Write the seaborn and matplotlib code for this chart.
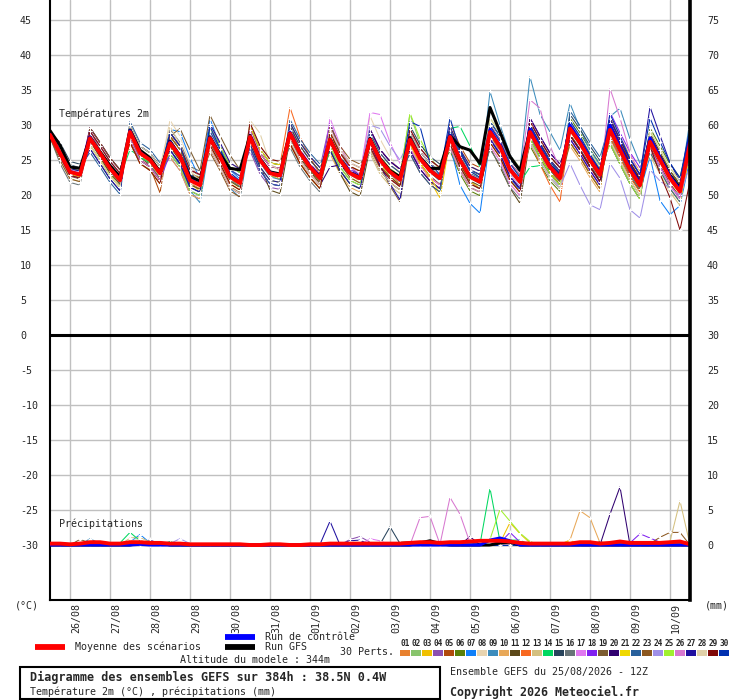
import numpy as np
import pandas as pd
import matplotlib
matplotlib.use("Agg")
import matplotlib.pyplot as plt
import matplotlib.transforms as mtransforms
from matplotlib.lines import Line2D
from matplotlib.patches import Rectangle
import seaborn as sns

# 6-hourly steps from 25/08 12Z to 10/09 12Z (384h)
hours = np.arange(65) * 6
day_hours = [12 + 24 * k for k in range(16)]
day_labels = ["26/08", "27/08", "28/08", "29/08", "30/08", "31/08", "01/09", "02/09",
              "03/09", "04/09", "05/09", "06/09", "07/09", "08/09", "09/09", "10/09"]

member_names = ["%02d" % i for i in range(1, 31)]
member_colors = ["#e8812f", "#88c46c", "#f0c000", "#8c50b0", "#b04a0c", "#5a8008",
                 "#1080f8", "#e8d4b0", "#3c8cbc", "#e8a858", "#5c4818", "#f86820",
                 "#d4c080", "#00d860", "#28445c", "#687478", "#e078f0", "#8020f0",
                 "#7c5c30", "#300070", "#f0d800", "#28609c", "#8c5820", "#a090e8",
                 "#a0f030", "#d878d0", "#2010a0", "#e0d0a8", "#800808", "#0030b0"]

# 2m temperature of the 30 perturbed members (degC)
t2m_members = [
    [28.8,25.7,23.0,22.6, 28.0,25.8,23.4,21.8, 28.6,25.6,24.5,22.7, 27.1,25.2,21.7,20.9, 28.6,25.9,22.2,21.2, 29.0,25.4,23.2,22.3, 29.6,26.6,23.8,22.0, 28.4,25.3,22.9,22.0, 27.2,24.6,22.9,21.6, 28.6,25.6,23.9,22.7, 27.6,24.4,21.8,20.8, 28.2,25.9,22.7,20.7, 28.1,25.6,23.4,21.8, 30.2,27.6,24.5,21.9, 28.4,25.5,22.7,20.6, 26.8,24.1,21.5,19.6, 26.2],
    [28.5,26.2,23.6,23.1, 28.3,26.4,24.1,22.5, 28.4,25.9,25.3,23.4, 27.8,25.8,22.5,21.8, 27.5,25.1,22.3,21.4, 28.0,24.7,22.9,22.6, 28.2,25.7,23.8,22.7, 28.6,25.6,23.5,22.9, 28.5,25.4,23.7,22.7, 31.6,27.4,25.2,23.8, 29.0,25.7,23.5,22.6, 29.9,27.6,24.6,22.7, 29.4,27.1,24.6,23.1, 30.0,28.0,25.8,23.6, 29.0,26.1,23.3,21.1, 27.4,25.4,23.1,21.2, 27.9],
    [28.4,25.8,22.9,22.5, 27.8,25.6,23.2,21.6, 28.8,25.7,24.6,22.8, 27.0,25.0,21.6,20.6, 27.9,25.2,22.0,21.0, 28.0,24.8,22.8,22.2, 29.0,26.0,23.5,21.8, 27.5,24.6,22.5,21.7, 27.6,24.5,22.6,21.4, 27.5,24.8,22.0,19.6, 27.8,24.3,21.9,21.0, 28.6,26.2,22.8,20.8, 28.2,25.6,23.1,21.6, 28.8,26.5,24.0,22.0, 28.7,25.8,22.9,20.8, 26.6,24.0,21.6,19.8, 25.8],
    [28.9,26.2,23.4,22.9, 29.3,26.4,24.0,22.3, 29.4,26.3,25.3,23.3, 25.4,23.5,20.1,19.4, 29.6,27.0,24.1,23.2, 26.3,23.0,21.1,20.8, 30.3,27.5,25.5,23.9, 30.4,26.6,24.0,22.8, 26.9,24.0,22.3,21.2, 28.9,26.2,24.5,23.4, 26.8,23.5,21.1,20.4, 30.5,28.4,25.1,23.4, 27.5,24.9,22.5,20.9, 30.5,28.4,26.0,23.9, 27.3,24.4,21.6,19.4, 28.6,26.0,23.4,21.5, 26.4],
    [28.7,25.9,23.1,22.6, 27.1,25.0,22.8,21.1, 28.7,25.7,24.0,20.3, 28.9,27.0,23.6,22.9, 26.6,24.0,21.1,20.2, 29.3,26.0,24.1,23.8, 29.8,27.0,25.0,23.4, 26.4,23.5,21.6,20.9, 28.9,26.0,24.3,23.2, 25.9,23.2,21.5,20.4, 30.3,27.0,24.6,23.9, 28.0,25.9,22.6,20.9, 30.5,27.9,25.5,23.9, 27.5,25.4,23.0,20.9, 30.3,27.4,24.6,22.4, 28.6,26.0,23.4,21.5, 26.4],
    [28.6,26.1,23.4,23.0, 28.6,26.5,24.2,22.7, 27.5,24.5,23.6,21.6, 28.9,27.0,23.6,22.8, 26.6,24.0,21.2,20.3, 29.3,26.0,24.1,23.7, 27.3,24.6,22.5,20.9, 29.4,26.5,24.6,23.9, 26.9,24.0,22.3,21.2, 29.4,26.7,25.0,23.9, 26.3,23.0,20.6,19.9, 30.0,27.9,24.6,22.9, 27.0,24.4,22.0,20.5, 31.0,28.9,26.5,24.4, 27.8,24.9,22.1,19.9, 29.6,27.0,24.4,22.5, 28.4],
    [28.9,26.3,23.5,23.0, 28.4,26.2,24.0,22.4, 29.3,26.4,25.4,23.4, 29.4,29.0,25.3,22.3, 30.9,27.0,23.6,22.3, 28.6,25.3,23.4,23.0, 28.8,26.0,24.1,22.6, 27.5,24.7,22.9,22.2, 27.4,24.7,23.0,21.9, 27.6,25.0,23.3,22.0, 27.2,21.4,18.8,17.4, 28.0,25.6,22.4,20.6, 28.4,25.9,23.6,21.9, 28.6,26.6,24.2,22.0, 28.4,25.6,22.8,20.6, 25.5,19.2,17.2,18.5, 25.2],
    [28.8,26.2,23.5,23.1, 28.4,26.3,24.1,22.4, 29.1,26.1,25.2,23.4, 30.7,28.4,24.4,22.4, 28.4,25.9,23.0,22.1, 28.7,25.4,23.4,23.1, 29.1,26.3,24.3,22.8, 28.2,25.4,23.5,22.8, 31.3,28.0,25.4,23.2, 28.3,25.6,23.8,22.8, 28.5,25.3,22.9,22.3, 29.5,27.3,24.0,22.3, 29.1,26.5,24.3,22.8, 29.7,27.7,25.4,23.4, 29.8,26.9,24.0,21.9, 28.2,25.6,23.0,21.1, 28.2],
    [28.5,25.8,23.0,22.6, 27.8,25.6,23.4,21.7, 28.5,25.5,24.3,22.3, 26.5,24.2,20.6,18.9, 27.5,24.6,21.0,19.6, 27.8,24.6,22.6,22.2, 28.6,25.8,23.6,22.0, 28.2,25.3,23.3,22.6, 28.0,25.1,23.5,22.4, 28.3,25.6,23.9,22.8, 28.6,25.5,22.9,22.1, 34.8,30.0,25.8,23.6, 36.9,31.5,29.0,26.4, 33.1,29.5,26.4,24.3, 31.2,32.4,28.0,24.5, 27.0,25.0,22.8,21.2, 30.7],
    [28.9,27.0,24.3,23.9, 27.1,25.0,22.8,21.1, 29.5,26.5,25.5,23.6, 25.4,23.5,20.1,19.4, 30.1,27.5,24.6,23.7, 27.3,24.0,22.1,21.8, 29.8,27.0,25.0,23.4, 25.9,23.0,21.1,20.4, 29.4,26.5,24.8,23.7, 26.9,24.2,22.5,21.4, 29.8,26.5,24.1,23.4, 27.0,24.9,21.6,19.9, 30.0,27.4,25.0,23.4, 27.0,24.9,22.5,20.4, 31.3,28.4,25.6,23.4, 26.1,23.5,20.9,19.0, 26.4],
    [28.4,25.6,22.7,22.3, 27.7,25.4,23.1,21.5, 28.4,25.4,24.4,22.5, 26.9,24.9,21.5,20.8, 27.6,24.9,22.0,21.1, 27.7,24.3,20.7,20.2, 28.0,25.3,23.4,21.6, 26.6,23.1,20.5,19.8, 26.8,24.1,22.6,21.4, 27.1,24.5,22.7,21.5, 27.6,24.4,22.0,21.3, 26.8,24.0,21.0,18.8, 28.0,25.2,23.0,21.5, 28.6,26.5,24.2,22.0, 28.2,25.4,22.6,20.5, 26.8,24.2,21.6,19.7, 26.5],
    [28.7,26.1,23.4,23.0, 29.6,27.5,25.3,23.6, 28.0,25.0,24.0,22.1, 28.4,26.5,23.1,22.4, 26.6,24.0,21.1,20.2, 29.8,26.5,24.6,24.3, 32.5,28.3,25.4,22.9, 26.4,23.5,21.6,20.9, 29.4,26.5,24.8,23.7, 26.9,24.2,22.5,21.4, 29.3,26.0,23.6,22.9, 28.6,26.2,22.6,20.9, 27.6,24.4,21.4,19.0, 30.0,27.9,25.5,23.4, 28.3,25.4,22.6,20.4, 28.6,26.0,23.4,21.5, 26.9],
    [28.2,25.0,22.3,21.9, 29.6,27.5,25.3,23.6, 28.5,25.5,24.5,22.6, 28.4,26.5,23.1,22.4, 27.1,24.5,21.6,20.7, 30.3,27.0,25.1,24.8, 27.3,24.5,22.5,20.9, 28.9,26.0,24.1,23.4, 25.9,23.0,21.3,20.2, 28.4,25.7,24.0,22.9, 29.8,26.5,24.1,23.4, 27.5,25.4,22.1,20.4, 31.0,28.4,26.0,24.4, 28.5,26.4,24.0,21.9, 30.3,27.4,24.6,22.4, 25.6,23.0,20.4,18.5, 28.9],
    [28.6,26.0,23.4,23.0, 28.3,26.3,24.4,22.6, 26.5,25.4,24.6,22.9, 25.9,24.0,20.6,19.9, 28.0,25.4,22.5,21.6, 29.8,26.5,24.6,24.3, 28.8,25.9,23.9,22.3, 26.4,23.5,21.6,20.9, 27.6,24.9,23.2,22.1, 28.0,25.5,23.8,22.6, 29.5,29.8,27.0,24.0, 28.6,26.5,23.5,21.8, 24.0,24.2,23.6,22.0, 29.6,27.4,25.0,22.9, 29.1,26.3,23.6,21.4, 28.6,26.0,23.4,21.5, 27.8],
    [29.0,27.5,24.8,24.4, 26.6,24.5,22.3,20.6, 30.0,27.0,26.0,24.1, 26.4,24.5,21.1,20.4, 29.6,27.0,24.1,23.2, 26.8,23.5,21.6,21.3, 29.8,27.0,25.0,23.4, 28.4,25.5,23.6,22.9, 26.4,23.5,21.8,20.7, 29.9,27.2,25.5,24.4, 27.3,24.0,21.6,20.9, 30.5,28.4,25.1,23.4, 28.0,25.4,23.0,21.4, 31.5,29.4,27.0,24.9, 27.3,24.4,21.6,19.4, 28.6,26.0,23.4,21.5, 26.9],
    [28.3,24.5,21.8,21.4, 29.1,27.0,24.8,23.1, 28.0,25.0,24.0,22.1, 29.4,27.5,24.1,23.4, 27.6,25.0,22.1,21.2, 29.8,26.5,24.6,24.3, 26.8,24.0,22.0,20.4, 28.9,26.0,24.1,23.4, 29.4,26.5,24.8,23.7, 26.4,23.7,22.0,20.9, 28.8,25.5,23.1,22.4, 26.5,24.4,21.1,19.4, 30.5,27.9,25.5,23.9, 28.5,26.4,24.0,21.9, 30.8,27.9,25.1,22.9, 26.6,24.0,21.4,19.5, 29.4],
    [28.9,26.3,23.6,23.2, 28.6,26.5,24.3,22.6, 27.5,24.5,23.5,21.6, 28.9,27.0,23.6,22.9, 27.1,24.5,21.6,20.7, 29.3,26.0,24.1,23.8, 27.8,25.0,23.0,21.4, 31.0,27.2,24.3,22.9, 31.8,31.5,27.5,24.5, 26.9,24.2,22.5,21.4, 29.8,26.5,24.1,23.4, 27.0,24.9,21.6,19.9, 30.0,27.4,25.0,23.4, 28.0,25.9,23.5,21.4, 29.9,27.0,24.0,21.7, 28.1,25.4,22.8,20.9, 28.0],
    [29.1,26.5,23.8,23.4, 29.6,27.5,25.3,23.6, 28.0,25.0,24.0,22.1, 25.9,24.0,20.6,19.9, 29.1,26.5,23.6,22.7, 26.8,23.5,21.6,21.3, 29.3,26.5,24.5,22.9, 30.2,26.2,23.7,22.7, 29.4,26.5,24.8,23.7, 26.4,23.7,22.0,20.9, 29.3,26.0,23.6,22.9, 28.0,25.9,22.6,20.9, 31.0,28.4,26.0,24.4, 28.0,25.9,23.5,21.4, 31.8,28.9,26.1,23.9, 26.6,24.0,21.4,19.5, 27.9],
    [28.6,26.0,22.8,22.4, 28.1,26.4,24.3,22.5, 29.1,26.3,25.1,23.0, 28.4,29.5,26.4,23.5, 31.4,28.5,25.7,23.6, 28.6,25.0,22.8,22.6, 28.4,25.6,23.6,21.9, 27.4,24.5,22.5,21.7, 27.2,24.1,21.3,19.0, 27.6,25.0,23.2,22.1, 28.0,24.8,22.4,21.6, 28.8,26.6,23.4,21.6, 28.7,26.1,23.6,21.9, 29.2,27.1,24.6,22.4, 28.9,26.0,23.1,20.9, 27.2,24.7,22.1,20.2, 27.2],
    [28.5,25.5,22.8,22.4, 29.6,27.5,25.3,23.6, 28.0,25.0,24.0,22.1, 28.4,26.5,23.1,22.4, 26.6,24.0,21.1,20.2, 29.3,26.0,24.1,23.8, 27.8,25.0,23.0,21.4, 24.0,24.3,23.0,22.2, 29.4,26.5,24.8,23.7, 26.4,23.7,22.0,20.9, 29.3,26.0,23.6,22.9, 28.0,25.9,22.6,20.9, 31.0,28.4,26.0,24.4, 28.5,26.4,24.0,21.9, 31.0,27.9,24.7,22.2, 29.0,26.0,23.0,21.0, 28.0],
    [28.4,25.7,23.0,22.6, 28.6,26.5,24.3,22.6, 27.5,24.5,23.5,21.6, 28.4,26.5,23.1,22.4, 27.1,24.5,21.6,20.7, 29.8,26.5,24.6,24.3, 27.3,24.5,22.5,20.9, 28.9,26.0,24.1,23.4, 26.9,24.0,22.3,21.2, 27.2,24.5,22.6,20.2, 29.8,26.5,24.1,23.4, 27.5,25.4,22.1,20.4, 30.0,27.4,25.0,23.4, 27.5,25.4,23.0,20.9, 30.3,27.4,24.6,22.4, 26.1,23.5,20.9,19.0, 25.9],
    [29.2,27.0,24.3,23.9, 26.1,24.0,21.8,20.1, 30.5,27.5,26.5,24.6, 26.4,24.5,21.1,20.4, 29.1,26.5,23.6,22.7, 26.8,23.5,21.6,21.3, 30.8,28.0,26.0,24.4, 26.9,24.0,22.1,21.4, 28.9,26.0,24.3,23.2, 25.9,23.2,21.5,20.4, 29.3,26.0,23.6,22.9, 30.5,28.4,25.1,23.4, 27.5,24.9,22.5,20.9, 32.0,29.9,27.5,25.4, 30.3,27.4,24.6,22.4, 26.1,23.5,20.9,19.0, 28.4],
    [28.2,25.0,22.3,21.9, 29.6,27.5,25.3,23.6, 28.0,25.0,24.0,22.1, 28.4,26.5,23.1,22.4, 26.1,23.5,20.6,19.7, 29.3,26.0,24.1,23.8, 27.8,25.0,23.0,21.4, 29.9,27.0,25.1,24.4, 26.4,23.5,21.8,20.7, 28.9,26.2,24.5,23.4, 26.8,23.5,21.1,20.4, 30.0,27.9,24.6,22.9, 28.0,25.4,23.0,21.4, 27.5,25.4,23.0,20.9, 30.8,27.9,25.1,22.9, 28.6,26.0,23.4,21.5, 25.4],
    [28.8,26.1,23.4,23.0, 28.2,26.1,23.9,22.2, 29.0,26.0,25.0,23.1, 27.6,25.6,22.2,21.5, 28.2,25.5,22.7,21.8, 28.4,25.1,23.2,22.9, 28.9,26.1,24.1,22.5, 28.0,25.1,23.2,22.5, 30.0,29.5,27.0,25.0, 28.0,25.3,23.6,22.5, 28.4,25.1,22.7,22.0, 28.2,26.0,23.0,21.2, 27.8,25.0,22.6,21.2, 24.5,21.4,18.6,17.9, 24.5,22.4,17.9,16.7, 23.6,22.0,21.0,20.0, 24.2],
    [29.1,26.5,23.8,23.4, 27.1,25.0,22.8,21.1, 30.0,27.0,26.0,24.1, 25.9,24.0,20.6,19.9, 29.6,27.0,24.1,23.2, 27.3,24.0,22.1,21.8, 30.3,27.5,25.5,23.9, 26.9,24.0,22.1,21.4, 28.4,25.5,23.8,22.7, 31.7,28.0,25.3,23.6, 26.8,23.5,21.1,20.4, 31.0,28.9,25.6,23.9, 28.0,25.4,23.0,21.4, 30.5,28.4,26.0,23.9, 27.3,24.4,21.6,19.4, 29.1,26.5,23.9,22.0, 28.9],
    [28.5,25.5,22.8,22.4, 29.1,27.0,24.8,23.1, 28.0,25.0,24.0,22.1, 28.9,27.0,23.6,22.9, 26.6,24.0,21.1,20.2, 29.3,26.0,24.1,23.8, 27.8,25.0,23.0,21.4, 29.4,26.5,24.6,23.9, 26.9,24.0,22.3,21.2, 29.4,26.7,25.0,23.9, 26.8,23.5,21.1,20.4, 30.0,27.9,24.6,22.9, 33.6,32.4,27.0,23.8, 28.0,25.9,23.5,21.4, 35.2,31.0,26.0,22.6, 26.6,24.0,21.4,19.5, 26.4],
    [28.9,26.5,23.8,23.4, 26.6,24.5,22.3,20.6, 30.0,27.0,26.0,24.1, 26.4,24.5,21.1,20.4, 30.1,27.5,24.6,23.7, 27.3,24.0,22.1,21.8, 30.3,27.5,25.5,23.9, 26.4,23.5,21.6,20.9, 27.5,24.2,21.6,19.3, 28.9,26.2,24.5,23.4, 29.8,26.5,24.1,23.4, 28.0,25.9,22.6,20.9, 30.0,27.4,25.0,23.4, 28.0,25.9,23.5,21.4, 30.8,27.9,25.1,22.9, 32.6,28.5,24.6,22.0, 29.4],
    [28.6,26.1,23.4,23.0, 27.1,25.0,22.8,21.1, 30.0,27.0,26.0,24.1, 29.8,27.2,23.5,22.0, 26.6,24.0,21.1,20.2, 30.7,28.8,24.5,23.4, 27.8,25.0,23.0,21.4, 29.4,26.5,24.6,23.9, 26.4,23.5,21.8,20.7, 28.9,26.2,24.5,23.4, 27.3,24.0,21.6,20.9, 31.0,28.9,25.6,23.9, 27.5,24.9,22.5,20.9, 30.5,28.4,26.0,23.9, 27.8,24.9,22.1,19.9, 29.1,26.5,23.9,22.0, 28.4],
    [28.6,25.5,22.8,22.4, 29.1,27.0,24.8,23.1, 27.5,24.5,23.5,21.6, 28.9,27.0,23.6,22.9, 27.1,24.5,21.6,20.7, 30.3,27.0,25.1,24.8, 27.3,24.5,22.5,20.9, 28.9,26.0,24.1,23.4, 26.9,24.0,22.3,21.2, 29.4,26.7,25.0,23.9, 27.3,24.0,21.6,20.9, 27.5,25.4,22.1,20.4, 30.5,27.9,25.5,23.9, 28.5,26.4,24.0,21.9, 30.3,27.4,24.6,22.4, 27.0,23.0,19.6,15.0, 22.0],
    [28.8,26.2,23.4,23.0, 28.3,26.2,24.0,22.3, 29.3,26.3,25.3,23.3, 28.9,27.0,23.0,21.9, 29.8,26.6,23.2,22.0, 28.6,25.2,23.3,23.0, 29.1,26.3,24.3,22.7, 28.2,25.3,23.4,22.7, 28.3,25.3,23.6,22.5, 30.5,29.8,24.5,22.9, 31.0,26.4,23.4,22.5, 29.9,27.7,24.5,22.5, 29.9,27.3,24.8,23.1, 30.6,28.4,25.8,23.6, 31.6,28.4,25.2,22.9, 31.0,27.6,24.6,22.4, 29.5],
]

t2m_mean = [28.6,26.0,23.3,22.9, 28.1,26.0,23.8,22.1, 29.0,26.0,25.0,23.1, 27.4,25.5,22.1,21.4,
            28.1,25.5,22.6,21.7, 28.3,25.0,23.1,22.8, 28.8,26.0,24.0,22.4, 27.9,25.0,23.1,22.4,
            27.9,25.0,23.3,22.2, 27.9,25.2,23.5,22.4, 28.3,25.0,22.6,21.9, 29.0,26.9,23.6,21.9,
            29.0,26.4,24.0,22.4, 29.5,27.4,25.0,22.9, 29.3,26.4,23.6,21.4, 27.6,25.0,22.4,20.5, 27.4]
t2m_control = [28.7,26.0,23.4,22.9, 28.3,26.1,23.8,22.2, 29.2,26.1,25.0,23.2, 27.6,25.6,22.2,21.5,
               28.2,25.6,22.7,21.8, 28.4,25.1,23.2,22.8, 29.0,26.1,24.1,22.5, 28.0,25.1,23.2,22.4,
               28.0,25.1,23.3,22.2, 28.0,25.3,23.6,22.5, 28.5,25.1,22.7,22.0, 29.4,27.1,23.8,22.0,
               29.4,26.7,24.2,22.6, 30.0,27.8,25.3,23.1, 30.0,26.9,24.0,21.7, 28.2,25.4,22.7,20.8, 28.2]
t2m_gfs = [29.2,27.1,24.0,23.8, 28.3,26.2,24.2,22.6, 29.3,26.4,25.3,23.3, 27.7,25.6,22.6,22.0,
           28.3,25.8,23.8,23.6, 28.5,25.2,23.3,23.0, 28.9,26.1,24.1,22.6, 28.0,25.1,23.2,22.5,
           28.1,25.2,23.5,22.6, 28.2,25.4,23.8,23.8, 28.5,26.9,26.4,24.5, 32.5,29.0,25.5,23.5,
           29.2,26.6,24.2,22.7, 29.7,27.6,25.2,23.1, 29.6,26.7,24.0,21.8, 28.0,25.4,22.8,21.0, 27.8]

# precipitation of the members: only the steps with rain (member number, step, mm)
rain_member = [19, 19, 9, 9, 14, 14, 14, 14, 7, 7, 7, 13, 13, 13, 28, 28, 4, 3, 24, 24, 24,
               17, 26, 27, 27, 27, 27, 4, 4, 4, 17, 17, 19, 15, 15, 15, 23, 23,
               26, 26, 26, 26, 26, 26, 20, 18, 14, 14, 14, 14, 14, 25, 25, 25, 25, 25,
               3, 3, 3, 3, 18, 18, 18, 7, 7, 10, 10, 10, 10, 10, 21, 19, 20, 20,
               21, 18, 18, 18, 18, 2, 2, 2, 23, 23, 23, 23, 13, 13]
rain_step = [3, 4, 4, 5, 7, 8, 9, 12, 8, 9, 10, 8, 9, 10, 8, 9, 10, 10, 12, 13, 14,
             0, 1, 27, 28, 30, 31, 30, 31, 32, 32, 33, 33, 33, 34, 35, 35, 36,
             37, 38, 39, 40, 41, 42, 42, 43, 43, 44, 45, 46, 47, 44, 45, 46, 47, 48,
             45, 46, 47, 48, 45, 46, 47, 45, 46, 51, 52, 53, 54, 55, 52, 55, 56, 57,
             54, 58, 59, 60, 61, 59, 60, 61, 60, 61, 62, 63, 62, 63]
rain_mm = [0.8, 0.3, 0.9, 0.2, 0.3, 1.8, 0.6, 0.5, 0.4, 1.5, 0.3, 1.0, 1.1, 0.4, 0.6, 0.8, 0.8, 0.6, 0.2, 0.9, 0.2,
           0.2, 0.3, 0.1, 3.4, 0.6, 0.7, 0.8, 1.2, 0.4, 0.9, 0.6, 0.4, 0.1, 2.6, 0.2, 0.4, 0.5,
           3.9, 4.1, 0.1, 6.8, 4.4, 0.3, 1.2, 0.2, 0.1, 8.1, 0.5, 0.7, 0.7, 0.8, 5.1, 3.4, 1.7, 0.5,
           0.3, 3.2, 1.6, 0.3, 0.3, 1.8, 0.4, 0.6, 0.5, 0.1, 0.7, 4.9, 3.9, 0.3, 0.7, 0.5, 4.4, 8.3,
           0.3, 0.3, 1.6, 1.0, 0.4, 0.4, 0.5, 0.3, 0.2, 1.1, 1.8, 1.8, 0.5, 6.3]

rain_mean = [0.2,0.2,0.1,0.2, 0.4,0.4,0.2,0.2, 0.4,0.4,0.3,0.3, 0.2,0.2,0.1,0.1,
             0.1,0.1,0.1,0.1, 0.0,0.0,0.1,0.1, 0.0,0.0,0.1,0.1, 0.2,0.2,0.2,0.2,
             0.2,0.2,0.2,0.2, 0.3,0.4,0.4,0.3, 0.4,0.4,0.5,0.6, 0.6,0.6,0.5,0.3,
             0.2,0.2,0.2,0.2, 0.2,0.4,0.4,0.2, 0.3,0.5,0.3,0.3, 0.3,0.3,0.4,0.5, 0.1]
rain_control = [0.0,0.0,0.0,0.0, 0.0,0.0,0.0,0.0, 0.0,0.1,0.0,0.0, 0.0,0.0,0.0,0.0,
                0.0,0.0,0.0,0.0, 0.0,0.0,0.0,0.0, 0.0,0.0,0.0,0.0, 0.0,0.0,0.0,0.0,
                0.0,0.0,0.0,0.0, 0.0,0.0,0.0,0.0, 0.0,0.0,0.0,0.0, 0.7,1.0,0.6,0.0,
                0.0,0.0,0.0,0.0, 0.0,0.0,0.0,0.0, 0.0,0.0,0.0,0.0, 0.0,0.0,0.0,0.0, 0.0]
rain_gfs = [0.0,0.0,0.0,0.0, 0.0,0.0,0.0,0.0, 0.0,0.3,0.3,0.3, 0.0,0.0,0.0,0.0,
            0.0,0.0,0.0,0.0, 0.0,0.0,0.0,0.0, 0.0,0.0,0.0,0.0, 0.0,0.0,0.0,0.0,
            0.0,0.0,0.0,0.0, 0.0,0.3,0.6,0.2, 0.0,0.0,0.0,0.0, 0.0,0.3,0.4,0.0,
            0.0,0.0,0.0,0.0, 0.0,0.0,0.0,0.0, 0.0,0.0,0.0,0.0, 0.0,0.0,0.0,0.0, 0.0]

# the precipitation panel is drawn 30 units below zero: 0 mm sits on -30
RAIN_OFFSET = -30

rain_members = np.zeros((30, len(hours)))
for m, s, v in zip(rain_member, rain_step, rain_mm):
    rain_members[m - 1, s] = v

temp_rows = []
rain_rows = []
for i, name in enumerate(member_names):
    for h, t, r in zip(hours, t2m_members[i], rain_members[i]):
        temp_rows.append((name, h, t))
        rain_rows.append((name, h, r + RAIN_OFFSET))
df_temp = pd.DataFrame(temp_rows, columns=["member", "hour", "value"])
df_rain = pd.DataFrame(rain_rows, columns=["member", "hour", "value"])
palette = dict(zip(member_names, member_colors))

sns.set_style("white")
plt.rcParams["font.family"] = ["DejaVu Sans Mono"]

W, H = 740, 700
def fx(x):
    return x / W
def fy(y):
    return 1 - y / H

fig = plt.figure(figsize=(7.4, 7.0), dpi=100)
ax = fig.add_axes([fx(50), fy(600), 640 / W, 600 / H])

member_kw = dict(lw=0.75, marker="+", markersize=3.2, markeredgewidth=0.75,
                 legend=False, estimator=None, zorder=2)
sns.lineplot(data=df_temp, x="hour", y="value", hue="member", palette=palette, ax=ax, **member_kw)
sns.lineplot(data=df_rain, x="hour", y="value", hue="member", palette=palette, ax=ax, **member_kw)

sns.lineplot(x=hours, y=t2m_gfs, color="black", lw=2.2, ax=ax, zorder=3)
sns.lineplot(x=hours, y=np.array(rain_gfs) + RAIN_OFFSET, color="black", lw=2.2, ax=ax, zorder=3)
sns.lineplot(x=hours, y=t2m_control, color="#0000ff", lw=2.0, ax=ax, zorder=3.5)
sns.lineplot(x=hours, y=np.array(rain_control) + RAIN_OFFSET, color="#0000ff", lw=2.2, ax=ax, zorder=3.5)
sns.lineplot(x=hours, y=t2m_mean, color="#ff0000", lw=2.8, ax=ax, zorder=4)
sns.lineplot(x=hours, y=np.array(rain_mean) + RAIN_OFFSET, color="#ff0000", lw=2.8, ax=ax, zorder=4)

ylo, yhi = -265 / 7, 335 / 7
ax.set_xlim(0, 384)
ax.set_ylim(ylo, yhi)
ax.set_xlabel("")
ax.set_ylabel("")
ax.set_xticks(day_hours)
ax.set_xticklabels(day_labels, rotation=90, fontsize=7.2, va="top", ha="center")
ax.set_yticks(range(-30, 50, 5))
ax.set_yticklabels([str(v) for v in range(-30, 50, 5)], fontsize=7.2)
ax.grid(True, color="#c0c0c0", lw=1)
ax.set_axisbelow(True)
ax.tick_params(axis="both", length=0)
ax.tick_params(axis="x", pad=2)
ax.tick_params(axis="y", pad=21.6)
for t in ax.yaxis.get_major_ticks():
    t.label1.set_horizontalalignment("left")
shift = mtransforms.ScaledTranslation(6 / 100, 0, fig.dpi_scale_trans)
for lbl in ax.get_xticklabels():
    lbl.set_transform(lbl.get_transform() + shift)
ax.axhline(0, color="black", lw=2.2, zorder=5)

for side in ["top", "right"]:
    ax.spines[side].set_visible(False)
for side in ["left", "bottom"]:
    ax.spines[side].set_color("black")
    ax.spines[side].set_linewidth(1.5)

ax2 = ax.twinx()
ax2.set_ylim(ylo + 30, yhi + 30)
ax2.set_yticks(range(0, 80, 5))
ax2.set_yticklabels([str(v) for v in range(0, 80, 5)], fontsize=7.2)
ax2.tick_params(axis="y", length=0, pad=12.2)
for side in ["top", "left", "bottom"]:
    ax2.spines[side].set_visible(False)
ax2.spines["right"].set_color("black")
ax2.spines["right"].set_linewidth(2.6)

txt = dict(fontsize=7.2, va="center", ha="left")
fig.text(fx(59), fy(114), "Températures 2m", **txt)
fig.text(fx(59), fy(524), "Précipitations", **txt)
fig.text(fx(15), fy(606), "(°C)", **txt)
fig.text(fx(705), fy(606), "(mm)", **txt)

# legend block
def legend_line(x0, x1, y, color):
    fig.add_artist(Line2D([fx(x0), fx(x1)], [fy(y), fy(y)], transform=fig.transFigure,
                          color=color, lw=4.2, solid_capstyle="butt"))

legend_line(35, 65, 647, "#ff0000")
legend_line(225, 255, 637, "#0000ff")
legend_line(225, 255, 647, "black")
fig.text(fx(75), fy(647), "Moyenne des scénarios", **txt)
fig.text(fx(265), fy(637), "Run de contrôle", **txt)
fig.text(fx(265), fy(647), "Run GFS", **txt)
fig.text(fx(340), fy(652), "30 Perts.", **txt)
fig.text(fx(180), fy(660), "Altitude du modele : 344m", **txt)
for i, (name, col) in enumerate(zip(member_names, member_colors)):
    x0 = 400 + 11 * i
    fig.patches.append(Rectangle((fx(x0), fy(656)), 10 / W, 6 / H, transform=fig.transFigure,
                                 facecolor=col, edgecolor="none"))
    fig.text(fx(x0 + 5), fy(643), name, fontsize=5.6, ha="center", va="center", weight="bold")

fig.patches.append(Rectangle((fx(20), fy(699)), 420 / W, 32 / H, transform=fig.transFigure,
                             facecolor="none", edgecolor="black", lw=1.5))
fig.text(fx(30), fy(677), "Diagramme des ensembles GEFS sur 384h : 38.5N 0.4W",
         fontsize=8.5, weight="bold", va="center", ha="left")
fig.text(fx(30), fy(692), "Température 2m (°C) , précipitations (mm)", **txt)
fig.text(fx(450), fy(672), "Ensemble GEFS du 25/08/2026 - 12Z", **txt)
fig.text(fx(450), fy(692), "Copyright 2026 Meteociel.fr", fontsize=8.4, weight="bold",
         va="center", ha="left")

fig.savefig("out.png", dpi=100, facecolor="white")
